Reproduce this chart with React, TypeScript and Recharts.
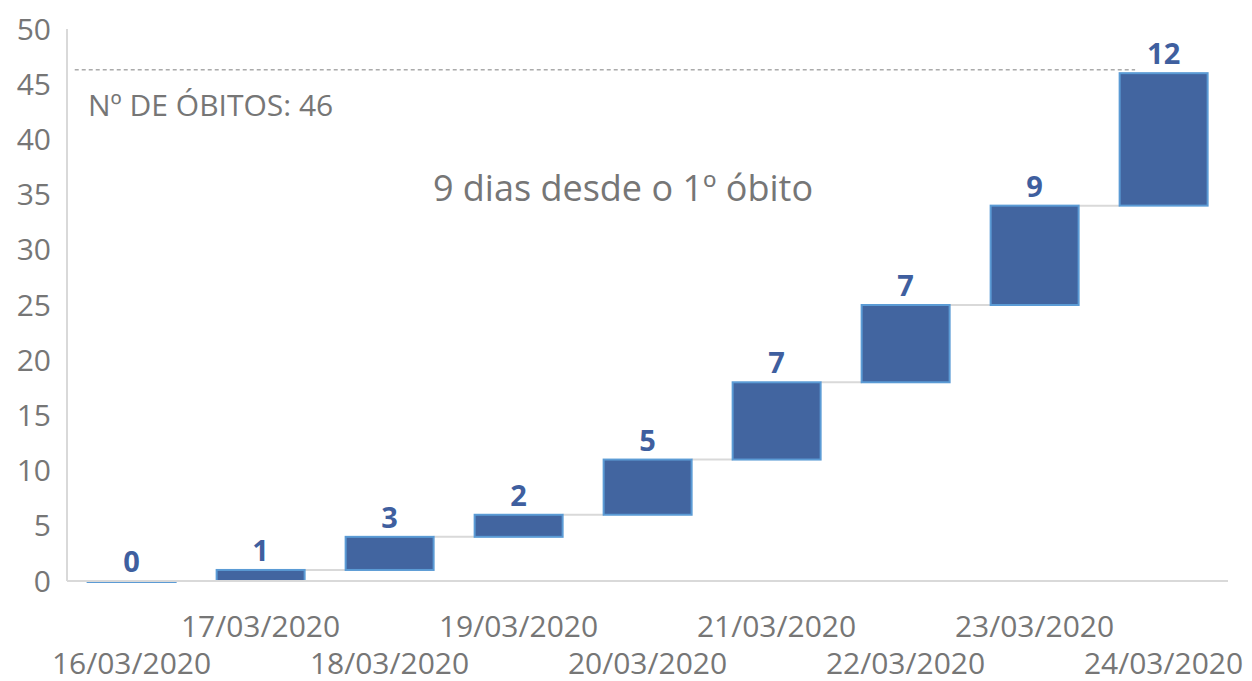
import React from 'react';
import { BarChart, Bar, XAxis, YAxis, LabelList, ReferenceLine } from 'recharts';

const days = ['16/03/2020', '17/03/2020', '18/03/2020', '19/03/2020', '20/03/2020', '21/03/2020', '22/03/2020', '23/03/2020', '24/03/2020'];
const newDeaths = [0, 1, 3, 2, 5, 7, 7, 9, 12];
const yTicks = [0, 5, 10, 15, 20, 25, 30, 35, 40, 45, 50];
const totalDeaths = 46;

const GAP = 0.16;
const GAP_RATIO = (2 * GAP) / (1 - 2 * GAP);
const GRAY = '#767676';
const FONT = "'Open Sans', sans-serif";

let running = 0;
const data = days.map((day, i) => {
  const start = running;
  running += newDeaths[i];
  return { day, idx: i, delta: newDeaths[i], range: [start, running] };
});

const WaterfallBar = (props: any) => {
  const { x, y, width, height, index } = props;
  const gap = width * GAP_RATIO;
  return (
    <g>
      {index < days.length - 1 && (
        <line x1={x + width} x2={x + width + gap} y1={y} y2={y} stroke="#d9d9d9" strokeWidth={2} />
      )}
      <rect x={x} y={y} width={width} height={Math.max(height, 1)} fill="#4265a0" stroke="#5b9bd5" strokeWidth={2} />
    </g>
  );
};

const DayTick = (props: any) => {
  const { x, y, payload, index } = props;
  const dy = index % 2 === 1 ? 54 : 91;
  return (
    <text x={x} y={y + dy} textAnchor="middle" fill={GRAY} fontSize={30} fontFamily={FONT}>
      {payload.value}
    </text>
  );
};

export default function App() {
  return (
    <div style={{ position: 'absolute', left: 0, top: 0, width: 1252, height: 681, background: '#fff' }}>
      <BarChart width={1252} height={681} data={data} margin={{ top: 29, right: 24, left: 0, bottom: 0 }} barCategoryGap={`${GAP * 100}%`}>
        <XAxis
          dataKey="day"
          interval={0}
          height={100}
          tickLine={false}
          tickSize={0}
          axisLine={{ stroke: '#d9d9d9', strokeWidth: 2 }}
          tick={<DayTick />}
        />
        <XAxis xAxisId="n" dataKey="idx" type="number" scale="linear" domain={[0, 9]} allowDataOverflow hide />
        <YAxis
          width={67}
          domain={[0, 50]}
          ticks={yTicks}
          interval={0}
          tickLine={false}
          tickSize={0}
          tickMargin={16}
          axisLine={{ stroke: '#d9d9d9', strokeWidth: 2 }}
          tick={{ fill: GRAY, fontSize: 30, fontFamily: FONT }}
        />
        <ReferenceLine
          xAxisId="n"
          segment={[{ x: 0.06, y: totalDeaths + 0.3 }, { x: 8.28, y: totalDeaths + 0.3 }]}
          stroke="#7f7f7f"
          strokeDasharray="4 3"
          strokeWidth={1}
        />
        <Bar dataKey="range" shape={<WaterfallBar />} isAnimationActive={false}>
          <LabelList
            dataKey="delta"
            position="top"
            offset={9}
            fill="#3f5f9f"
            fontSize={29}
            fontWeight="bold"
            fontFamily={FONT}
          />
        </Bar>
      </BarChart>
      <svg width={1252} height={681} style={{ position: 'absolute', left: 0, top: 0, pointerEvents: 'none' }}>
        <text x={88} y={116} fill={GRAY} fontSize={30} fontFamily={FONT}>
          Nº DE ÓBITOS: {totalDeaths}
        </text>
        <text x={623} y={201} textAnchor="middle" fill={GRAY} fontSize={36} fontFamily={FONT}>
          9 dias desde o 1º óbito
        </text>
      </svg>
    </div>
  );
}
